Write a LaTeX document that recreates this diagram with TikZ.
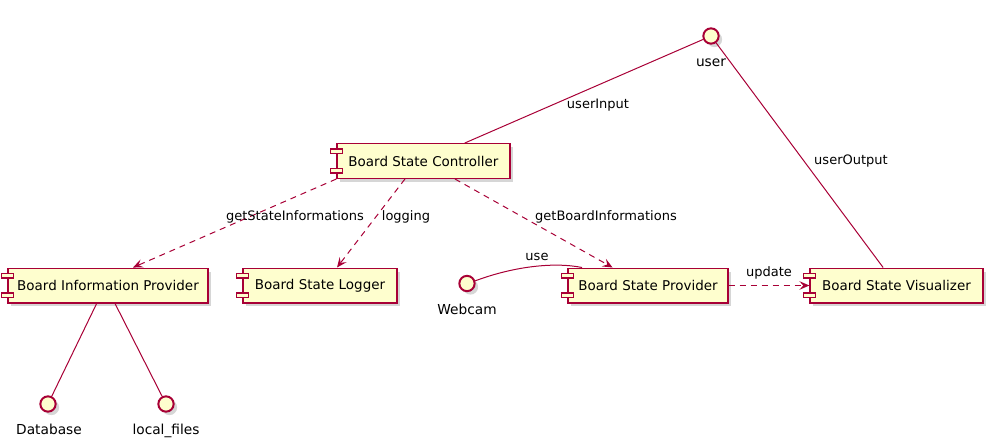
\documentclass[tikz,border=0pt]{standalone}
\usepackage{fontspec}
\setmainfont{DejaVu Sans}
\usetikzlibrary{arrows.meta,shadows}
\definecolor{bord}{HTML}{A80036}
\definecolor{fillc}{HTML}{FEFECE}
\begin{document}
\begin{tikzpicture}[x=0.75pt,y=-0.75pt,
  shadowed/.style={drop shadow={shadow xshift=2.6pt,shadow yshift=-2.6pt,fill=black!40,opacity=0.4}},
  comp/.style={draw=bord, fill=fillc, line width=1pt, minimum height=26pt, inner sep=0pt,
    font=\fontsize{10.1}{12}\selectfont, text=black, shadowed},
  icon/.style={draw=bord, fill=fillc, line width=1pt},
  iface/.style={circle, draw=bord, fill=fillc, line width=1.5pt, minimum size=11.5pt, inner sep=0pt, shadowed},
  ilbl/.style={font=\fontsize{10.3}{12}\selectfont, text=black, inner sep=0pt, anchor=base},
  lbl/.style={font=\fontsize{9.75}{11}\selectfont, text=black, inner sep=0pt},
  link/.style={draw=bord, line width=0.75pt},
  dep/.style={link, dash pattern=on 4.5pt off 3.75pt, -{Stealth[length=7.5pt,width=6.5pt,inset=3pt]}}
]
\useasboundingbox (0,0) rectangle (990,446);

% components
\node[comp, minimum width=129.75pt] (ctrl) at (423.5,161) {Board State Controller};
\node[comp, minimum width=150pt] (info) at (108,285.5) {Board Information Provider};
\node[comp, minimum width=115.5pt] (logger) at (320,285.5) {Board State Logger};
\node[comp, minimum width=120pt] (prov) at (648,285.5) {Board State Provider};
\node[comp, minimum width=129.75pt] (vis) at (896.5,285.5) {Board State Visualizer};

\foreach \n in {ctrl,info,logger,prov,vis}{
  \draw[icon] ([xshift=-4.5pt,yshift=9pt]\n.west) rectangle ([xshift=4.5pt,yshift=5.6pt]\n.west);
  \draw[icon] ([xshift=-4.5pt,yshift=-5.6pt]\n.west) rectangle ([xshift=4.5pt,yshift=-9pt]\n.west);
}

% interfaces
\node[iface] (user) at (711,36) {};
\node[ilbl] (userl) at (711,66) {user};
\node[iface] (cam) at (467,283.5) {};
\node[ilbl] (caml) at (467,314.5) {Webcam};
\node[iface] (db) at (48,404) {};
\node[ilbl] (dbl) at (49,434) {Database};
\node[iface] (lf) at (166,404) {};
\node[ilbl] (lfl) at (166,434) {local\_files};

% links
\draw[link] (ctrl) -- (user);
\draw[link] (user) -- (vis);
\draw[dep] (ctrl.south west) -- ([xshift=18.75pt]info.north);
\draw[dep] ([xshift=-13.9pt]ctrl.south) -- ([xshift=12.75pt]logger.north);
\draw[dep] ([xshift=23.6pt]ctrl.south) -- ([xshift=-26.6pt]prov.north);
\draw[link] (cam.18) .. controls (515,266) and (555,262) .. ([xshift=-49.5pt]prov.north);
\draw[dep] (prov) -- (vis);
\draw[link] ([xshift=-8.5pt]info.south) -- (db);
\draw[link] ([xshift=5.25pt]info.south) -- (lf);

% labels
\node[lbl] (l1) at (598,105) {userInput};
\node[lbl] (l2) at (851,161) {userOutput};
\node[lbl] (l3) at (295,217) {getStateInformations};
\node[lbl] (l4) at (406,217) {logging};
\node[lbl] (l5) at (606,217) {getBoardInformations};
\node[lbl] (l6) at (537,257) {use};
\node[lbl] (l7) at (769,273) {update};
\end{tikzpicture}
\end{document}
